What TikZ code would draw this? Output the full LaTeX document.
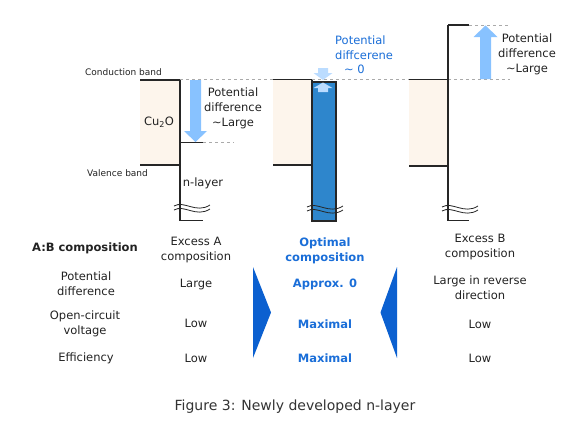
\documentclass[tikz,border=0pt]{standalone}
\usepackage{fontspec}
\setmainfont{DejaVu Sans}
\usetikzlibrary{arrows.meta}
\definecolor{peach}{HTML}{FDF5EC}
\definecolor{lblue}{HTML}{88C2FF}
\definecolor{pblue}{HTML}{BBDCFF}
\definecolor{barblue}{HTML}{2E86CC}
\definecolor{tblue}{HTML}{1A6ED8}
\definecolor{triblue}{HTML}{0B60D0}
\definecolor{txt}{HTML}{222222}
\definecolor{dgray}{HTML}{AAAAAA}
\begin{document}
\begin{tikzpicture}[x=1pt,y=-1pt,
  band/.style={line width=1.2pt,draw=black!85},
  dashln/.style={line width=0.9pt,draw=dgray,dash pattern=on 3pt off 3pt},
  tab/.style={font=\fontsize{11.5}{15}\selectfont,align=center,inner sep=0pt,text=txt},
  tabblue/.style={font=\fontsize{11.5}{15}\selectfont\bfseries,align=center,inner sep=0pt,text=tblue},
  small/.style={font=\fontsize{9}{11}\selectfont,inner sep=0pt,text=txt},
  lbl/.style={font=\fontsize{11.5}{15}\selectfont,align=center,inner sep=0pt,text=txt},
  breakmark/.pic={
    \draw[line width=0.8pt,black!85] (-18,-1) .. controls (-8,-7) and (4,7) .. (18,-2);
    \draw[line width=0.8pt,black!85] (-18,3) .. controls (-8,-3) and (4,11) .. (18,2);
  }]
\useasboundingbox (0,0) rectangle (587,440);
\fill[white] (0,0) rectangle (587,440);

% ---------- panel 1 ----------
\fill[peach] (140,80) rectangle (180,165);
\draw[dashln] (180,79.5) -- (409,79.5);
\draw[dashln] (203,142.5) -- (234,142.5);
\draw[band] (140,80) -- (180,80);
\draw[band] (140,165) -- (180,165);
\draw[band] (180,80) -- (180,220.5);
\draw[band] (180,142.5) -- (203,142.5);
\draw[band] (180,220.5) -- (203,220.5);
\fill[lblue] (190,80) -- (201,80) -- (201,131) -- (207,131) -- (195.5,142) -- (184,131) -- (190,131) -- cycle;
\pic at (192,207) {breakmark};
\node[small,anchor=west] (cb) at (85,72) {Conduction band};
\node[small,anchor=west] (vb) at (87,173) {Valence band};
\node[lbl] (cu) at (159,122) {Cu\textsubscript{2}O};
\node[lbl] (pd1) at (233,108) {Potential\\difference\\\textasciitilde Large};
\node[lbl] (nl) at (203,183) {n-layer};

% ---------- panel 2 ----------
\fill[peach] (273,79.5) rectangle (312,165);
\draw[band] (273,79.5) -- (312,79.5);
\draw[band] (273,165) -- (312,165);
\filldraw[fill=barblue,draw=black!85,line width=1.2pt] (312,82) rectangle (336,221);
\draw[band] (312,79.5) -- (312,221);
\fill[pblue] (318,68) -- (328,68) -- (328,73) -- (332.5,73) -- (323,80) -- (313.5,73) -- (318,73) -- cycle;
\fill[pblue] (318,92) -- (328,92) -- (328,88) -- (332.5,88) -- (323,82.5) -- (313.5,88) -- (318,88) -- cycle;
\pic at (325,208) {breakmark};
\node[font=\fontsize{11.5}{14.5}\selectfont,align=left,inner sep=0pt,text=tblue,anchor=north west] (pd2) at (335,36) {Potential\\diffcerene\\\hspace*{9pt}\textasciitilde\ 0};

% ---------- panel 3 ----------
\fill[peach] (409,79.5) rectangle (448,166);
\draw[band] (409,79.5) -- (448,79.5);
\draw[band] (409,166) -- (448,166);
\draw[dashln] (448,79.5) -- (510,79.5);
\draw[dashln] (469,25) -- (510,25);
\draw[band] (448,25) -- (448,220.5);
\draw[band] (448,25) -- (469,25);
\draw[band] (448,220.5) -- (469,220.5);
\fill[lblue] (480,79) -- (491,79) -- (491,37) -- (497.5,37) -- (485.5,25.5) -- (473.5,37) -- (480,37) -- cycle;
\pic at (460,208) {breakmark};
\node[lbl] (pd3) at (527,54) {Potential\\difference\\\textasciitilde Large};

% ---------- table ----------
\node[font=\fontsize{11.5}{15}\selectfont\bfseries,inner sep=0pt,text=txt] (h0) at (85,248) {A:B composition};
\node[tab] (r1) at (86,284) {Potential\\difference};
\node[tab] (r2) at (85,323.5) {Open-circuit\\voltage};
\node[tab] (r3) at (86,358) {Efficiency};

\node[tab] (a0) at (196,250) {Excess A\\composition};
\node[tab] (a1) at (196,284) {Large};
\node[tab] (a2) at (196,323) {Low};
\node[tab] (a3) at (196,358) {Low};

\node[tabblue] (o0) at (325,250.5) {Optimal\\composition};
\node[tabblue] (o1) at (325,284) {Approx. 0};
\node[tabblue] (o2) at (325,324) {Maximal};
\node[tabblue] (o3) at (325,358) {Maximal};

\node[tab] (b0) at (480,247) {Excess B\\composition};
\node[tab] (b1) at (480,287.5) {Large in reverse\\direction};
\node[tab] (b2) at (480,324) {Low};
\node[tab] (b3) at (480,358) {Low};

\fill[triblue] (253,267) -- (271,312.5) -- (253,358) -- cycle;
\fill[triblue] (397,267) -- (380.5,312.5) -- (397,358) -- cycle;

\node[font=\fontsize{14}{17}\selectfont,inner sep=0pt,text=black!80] (cap) at (295,407) {Figure 3: Newly developed n-layer};
\end{tikzpicture}
\end{document}
